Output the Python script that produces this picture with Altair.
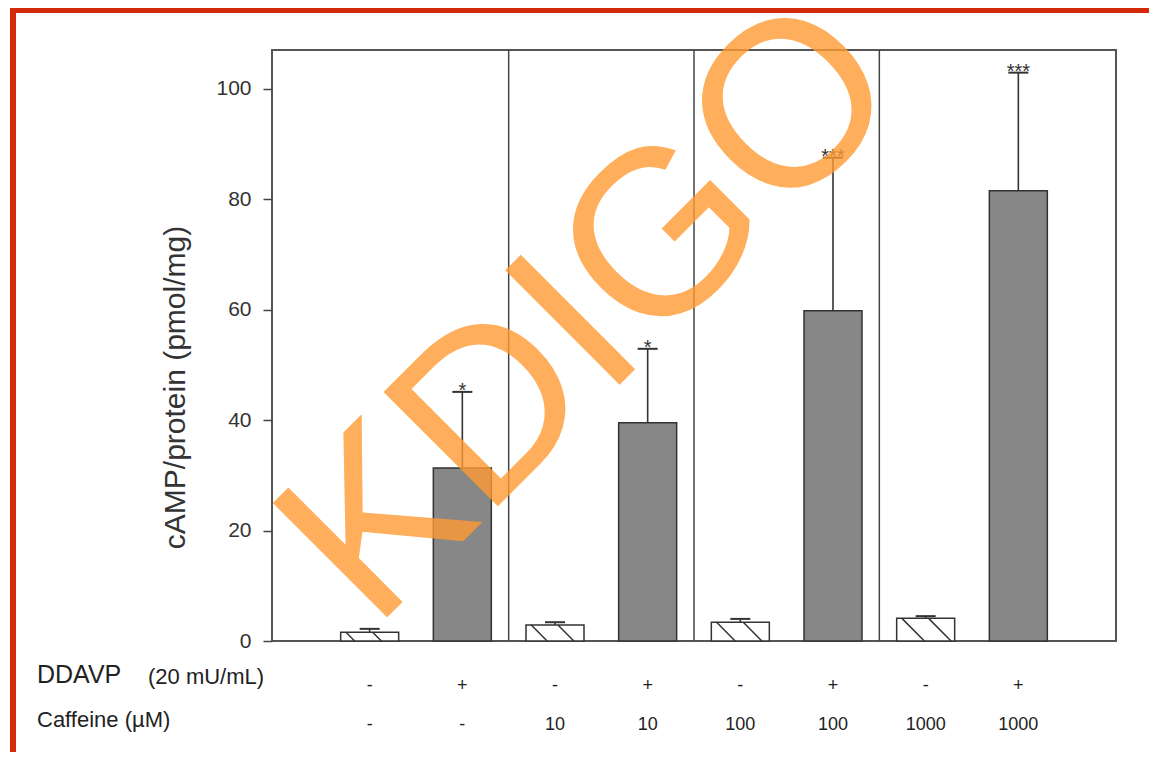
import altair as alt
import pandas as pd

# ---- data ----
positions = [1, 2, 3, 4, 5, 6, 7, 8]
means = [1.6, 31.3, 2.9, 39.5, 3.4, 59.8, 4.1, 81.5]
errors = [0.6, 13.8, 0.5, 13.4, 0.6, 27.7, 0.4, 21.4]
kinds = ["hatch", "solid", "hatch", "solid", "hatch", "solid", "hatch", "solid"]
ddavp = ["-", "+", "-", "+", "-", "+", "-", "+"]
caffeine = ["-", "-", "10", "10", "100", "100", "1000", "1000"]
signif = ["", "*", "", "*", "", "***", "", "***"]
separators = [2.5, 4.5, 6.5]
y_ticks = [0, 20, 40, 60, 80, 100]
y_title = "cAMP/protein (pmol/mg)"
row_labels = ["DDAVP", "(20 mU/mL)", "Caffeine (\u00b5M)"]

FONT = "Liberation Sans"
W, H = 844, 591
XMAX, YMAX = 9, 107
BAR = 58
PAD = {"left": 264, "top": 42, "right": 33, "bottom": 111}

df = pd.DataFrame({
    "pos": positions, "mean": means, "err": errors, "kind": kinds,
    "ddavp": ddavp, "caffeine": caffeine, "sig": signif,
})
df["top"] = df["mean"] + df["err"]

# hatch segments (45 degree "\" lines) derived from bar values via scale ratios
PXX = W / XMAX
PXY = H / YMAX
SP = 27
hrows = []
for p, m, k in zip(positions, means, kinds):
    if k != "hatch":
        continue
    L = p * PXX - BAR / 2
    R = p * PXX + BAR / 2
    top = m * PXY
    s = L + 5 - SP
    while s < R:
        x0, y0 = s, top
        if x0 < L:
            y0 = top - (L - x0)
            x0 = L
        x1, y1 = s + top, 0.0
        if x1 > R:
            y1 = top - (R - s)
            x1 = R
        if y0 > 0 and x1 > x0:
            hrows.append({"x": x0 / PXX, "x2": x1 / PXX, "y": y0 / PXY, "y2": y1 / PXY})
        s += SP
hdf = pd.DataFrame(hrows)

xs = alt.Scale(domain=[0, XMAX], nice=False, zero=False)
ys = alt.Scale(domain=[0, YMAX], nice=False)
yaxis = alt.Axis(values=y_ticks, tickSize=9, tickColor="#444", tickWidth=1.5,
                 labelFontSize=21, labelColor="#333", labelFont=FONT, labelPadding=12,
                 domain=False, grid=False, titleFontSize=30, titleFont=FONT,
                 titleFontWeight="normal", titleColor="#333", titleAngle=270,
                 titleX=-97, titleY=337, titleAlign="center", titleBaseline="middle")

base = alt.Chart(df)

sep = alt.Chart(pd.DataFrame({"s": separators})).mark_rule(color="#444", strokeWidth=1.5).encode(
    x=alt.X("s:Q", scale=xs, axis=None))

bars_solid = base.transform_filter("datum.kind == 'solid'").mark_bar(
    size=BAR, fill="#878787", stroke="#333", strokeWidth=1.5).encode(
    x=alt.X("pos:Q", scale=xs, axis=None),
    y=alt.Y("mean:Q", scale=ys, axis=yaxis, title=y_title))

bars_hatch = base.transform_filter("datum.kind == 'hatch'").mark_bar(
    size=BAR, fill="white", stroke="#333", strokeWidth=1.5).encode(
    x=alt.X("pos:Q", scale=xs, axis=None),
    y=alt.Y("mean:Q", scale=ys, axis=yaxis, title=y_title))

hatch = alt.Chart(hdf).mark_rule(color="#333", strokeWidth=1.5).encode(
    x=alt.X("x:Q", scale=xs, axis=None), x2="x2:Q",
    y=alt.Y("y:Q", scale=ys, axis=yaxis, title=y_title), y2="y2:Q")

err_line = base.mark_rule(color="#333", strokeWidth=1.6).encode(
    x=alt.X("pos:Q", scale=xs, axis=None),
    y=alt.Y("mean:Q", scale=ys, axis=yaxis, title=y_title), y2="top:Q")

caps = base.mark_tick(orient="horizontal", size=20, thickness=2, color="#333", opacity=1).encode(
    x=alt.X("pos:Q", scale=xs, axis=None),
    y=alt.Y("top:Q", scale=ys, axis=yaxis, title=y_title))

stars = base.mark_text(font=FONT, fontSize=20, color="#333", baseline="alphabetic", dy=5).encode(
    x=alt.X("pos:Q", scale=xs, axis=None),
    y=alt.Y("top:Q", scale=ys, axis=yaxis, title=y_title),
    text="sig:N")

row1 = base.mark_text(font=FONT, fontSize=18, color="#222", baseline="alphabetic").encode(
    x=alt.X("pos:Q", scale=xs, axis=None), y=alt.value(641), text="ddavp:N")
row2 = base.mark_text(font=FONT, fontSize=18, color="#222", baseline="alphabetic").encode(
    x=alt.X("pos:Q", scale=xs, axis=None), y=alt.value(680), text="caffeine:N")

lab_df = pd.DataFrame({"t": row_labels})
lab1 = alt.Chart(lab_df).transform_filter(alt.datum.t == row_labels[0]).mark_text(
    font=FONT, fontSize=25, color="#222", align="left", baseline="alphabetic").encode(
    x=alt.value(-235), y=alt.value(633), text="t:N")
lab2 = alt.Chart(lab_df).transform_filter(alt.datum.t == row_labels[1]).mark_text(
    font=FONT, fontSize=22, color="#222", align="left", baseline="alphabetic").encode(
    x=alt.value(-124), y=alt.value(634), text="t:N")
lab3 = alt.Chart(lab_df).transform_filter(alt.datum.t == row_labels[2]).mark_text(
    font=FONT, fontSize=22, color="#222", align="left", baseline="alphabetic").encode(
    x=alt.value(-235), y=alt.value(677), text="t:N")

one = pd.DataFrame({"a": [0]})
red_top = alt.Chart(one).mark_rect(color="#D42A0B").encode(
    x=alt.value(-262), x2=alt.value(W + PAD["right"]), y=alt.value(-PAD["top"]), y2=alt.value(-PAD["top"] + 5))
red_left = alt.Chart(one).mark_rect(color="#D42A0B").encode(
    x=alt.value(-262), x2=alt.value(-256), y=alt.value(-PAD["top"]), y2=alt.value(H + PAD["bottom"]))

wm = alt.Chart(pd.DataFrame({"w": ["KDIGO"]})).mark_text(
    font=FONT, fontSize=235, color="#FF9A33", opacity=0.8, angle=315,
    align="center", baseline="middle").encode(
    x=alt.value(319), y=alt.value(263), text="w:N")

chart = alt.layer(
    sep, bars_solid, bars_hatch, hatch, err_line, caps, stars,
    row1, row2, lab1, lab2, lab3, red_top, red_left, wm
).properties(
    width=W, height=H,
    autosize=alt.AutoSizeParams(type="none"),
    padding=PAD,
    background="white",
).configure_view(stroke="#555", strokeWidth=2)

chart.save("out.html", embed_options={"renderer": "svg", "actions": False})
